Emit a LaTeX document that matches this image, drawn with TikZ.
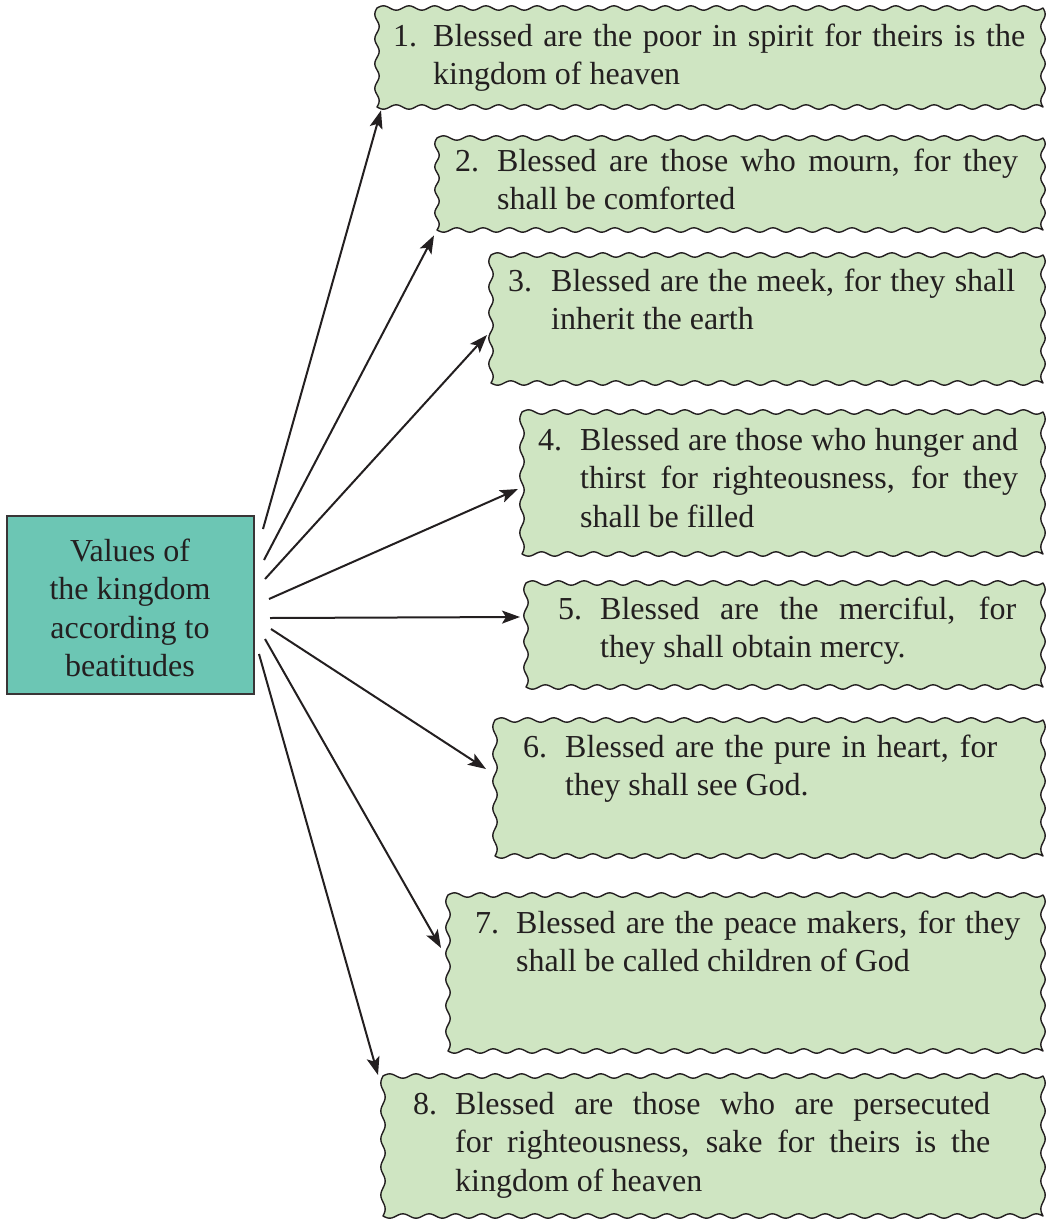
\documentclass[tikz,border=0pt]{standalone}
\usepackage{fontspec}
\setmainfont{Liberation Serif}
\usetikzlibrary{calc,arrows.meta}
\definecolor{boxgreen}{HTML}{CFE5C2}
\definecolor{centerteal}{HTML}{6CC6B4}
\definecolor{inkdark}{HTML}{231F20}
\newcommand\wavybox[5]{% name, x, y, w, h
  \pgfmathtruncatemacro\wbnx{max(1,round(#4/26))}%
  \pgfmathsetmacro\wblx{#4/\wbnx}%
  \pgfmathtruncatemacro\wbny{max(1,round(#5/26))}%
  \pgfmathsetmacro\wbly{#5/\wbny}%
  \pgfmathtruncatemacro\wbsx{\wbnx*12+1}%
  \pgfmathtruncatemacro\wbsy{\wbny*12+1}%
  \filldraw[wavestyle]
    plot[domain=0:#4, samples=\wbsx] ({#2+\x},{#3-2.2*sin((\x/\wblx)*360)})
    -- plot[domain=0:#5, samples=\wbsy] ({#2+#4+2.2*sin((\x/\wbly)*360)},{#3+\x})
    -- plot[domain=#4:0, samples=\wbsx] ({#2+\x},{#3+#5+2.2*sin((\x/\wblx)*360)})
    -- plot[domain=#5:0, samples=\wbsy] ({#2-2.2*sin((\x/\wbly)*360)},{#3+\x})
    -- cycle;
  \node[anchor=north west, minimum width=#4pt, minimum height=#5pt, inner sep=0pt] (#1) at (#2,#3) {};
}
\begin{document}
\begin{tikzpicture}[x=1pt,y=-1pt,
  wavestyle/.style={draw=inkdark, line width=1.4pt, fill=boxgreen, line join=round},
  txt/.style={anchor=base west, inner sep=0pt, text=inkdark,
    font={\fontsize{32}{38.5}\selectfont\spaceskip=0.25em plus 0.6em minus 0.08em}},
  centerbox/.style={draw=inkdark!90, line width=2pt, fill=centerteal, anchor=north west, inner sep=0pt},
  centertxt/.style={align=center, text=inkdark, inner sep=0pt, font={\fontsize{32}{38.5}\selectfont}},
  arr/.style={draw=inkdark, line width=2pt, -{Stealth[length=18pt,width=13pt,inset=4pt]}}
]
\useasboundingbox (0,0) rectangle (1045,1219);

% central box
\node[centerbox, minimum width=247pt, minimum height=178pt] (c) at (6,515) {};
\node[centertxt] (ct) at (130,608) {Values of\\the kingdom\\according to\\beatitudes};

% wavy boxes
\wavybox{b1}{377}{8}{666}{99}
\wavybox{b2}{437}{138}{606}{92}
\wavybox{b3}{491}{255}{552}{128}
\wavybox{b4}{522}{412}{521}{142}
\wavybox{b5}{526}{583}{517}{104}
\wavybox{b6}{495}{720}{548}{136}
\wavybox{b7}{448}{895}{595}{156}
\wavybox{b8}{383}{1076}{660}{140}

% texts
\node[txt] (t1) at (393,46)
  {\makebox[40pt][l]{1.}\parbox[t]{592pt}{Blessed are the poor in spirit for theirs is the\linebreak kingdom of heaven}};
\node[txt] (t2) at (455,171)
  {\makebox[42pt][l]{2.}\parbox[t]{521pt}{Blessed are those who mourn, for they\linebreak shall be comforted}};
\node[txt] (t3) at (508,291)
  {\makebox[43pt][l]{3.}\parbox[t]{464pt}{Blessed are the meek, for they shall\linebreak inherit the earth}};
\node[txt] (t4) at (538,450)
  {\makebox[42pt][l]{4.}\parbox[t]{438pt}{Blessed are those who hunger and\linebreak thirst for righteousness, for they\linebreak shall be filled}};
\node[txt] (t5) at (558,619)
  {\makebox[42pt][l]{5.}\parbox[t]{416pt}{Blessed are the merciful, for\linebreak they shall obtain mercy.}};
\node[txt] (t6) at (523,757)
  {\makebox[42pt][l]{6.}\parbox[t]{432pt}{Blessed are the pure in heart, for\linebreak they shall see God.}};
\node[txt] (t7) at (475,933)
  {\makebox[41pt][l]{7.}\parbox[t]{504pt}{Blessed are the peace makers, for they\linebreak shall be called children of God}};
\node[txt] (t8) at (413,1114)
  {\makebox[42pt][l]{8.}\parbox[t]{535pt}{Blessed are those who are persecuted\linebreak for righteousness, sake for theirs is the\linebreak kingdom of heaven}};

% arrows
\draw[arr] ($(c.east)+(8,-76)$)  -- ($(b1.south west)+(4,3)$);
\draw[arr] ($(c.east)+(9,-45)$)  -- ($(b2.south west)+(-3,5)$);
\draw[arr] ($(c.east)+(10,-26)$) -- ($(b3.north west)+(-4,80)$);
\draw[arr] ($(c.east)+(14,-6)$)  -- ($(b4.north west)+(-4,77)$);
\draw[arr] ($(c.east)+(15,13)$)  -- ($(b5.north west)+(-6,34)$);
\draw[arr] ($(c.east)+(16,24)$)  -- ($(b6.north west)+(-9,49)$);
\draw[arr] ($(c.east)+(10,34)$)  -- ($(b7.north west)+(-7,53)$);
\draw[arr] ($(c.east)+(4,49)$)   -- ($(b8.north west)+(-5,-1)$);
\end{tikzpicture}
\end{document}
